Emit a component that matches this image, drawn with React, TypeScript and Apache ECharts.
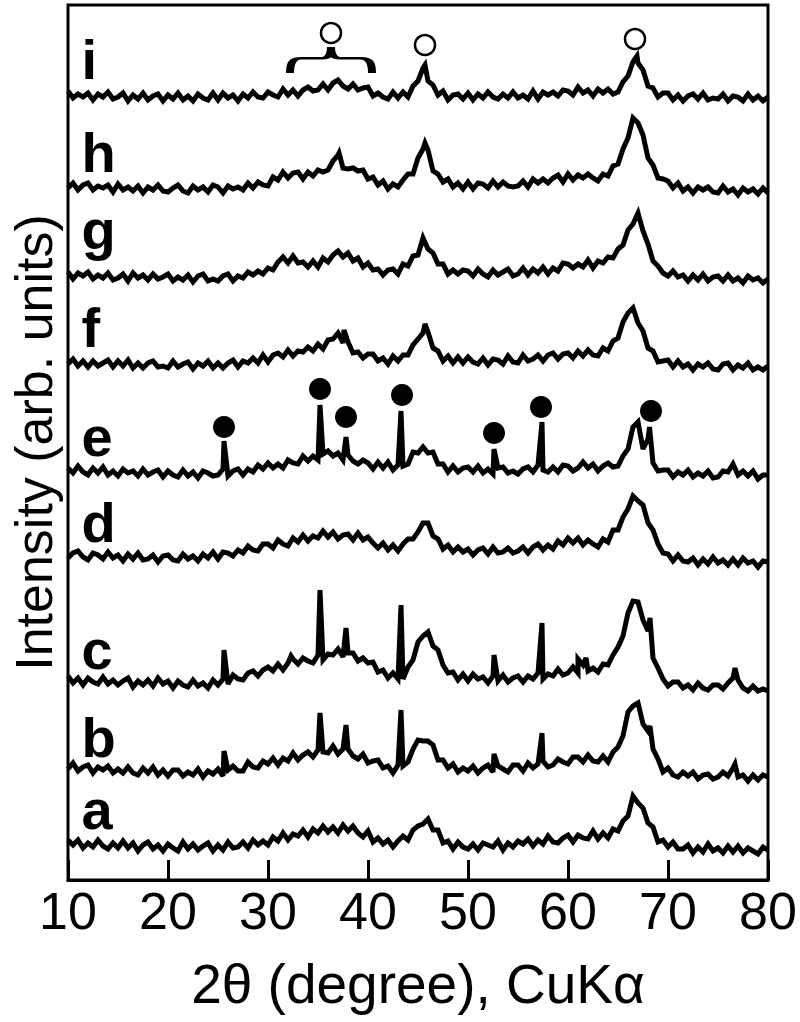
import React, { useEffect, useRef } from 'react'
import * as echarts from 'echarts'

const FONT = '"Liberation Sans", Arial, Helvetica, sans-serif'

// 2θ grid of the scans: 10°–80°, one reading every 0.5°
const twoTheta = Array.from({ length: 141 }, (_, i) => 10 + i * 0.5)

// intensity above each trace's own baseline
const scanA = [
  10, 5, 10, 2, 7, 3, 10, 4, 1, 7,
  2, 9, 2, 7, -1, 5, 8, 1, 5, -1,
  6, 2, -1, 8, 1, 6, 0, 4, 7, -1,
  5, 0, 8, 2, 3, 8, 2, 10, 5, 9,
  5, 13, 9, 17, 10, 16, 14, 20, 13, 21,
  17, 24, 18, 23, 17, 25, 19, 24, 17, 13,
  19, 8, 12, 6, 10, 3, 9, 14, 10, 20,
  24, 26, 31, 20, 20, 7, 9, 1, 8, 3,
  1, 6, 0, 7, 5, 3, 9, 0, 7, 3,
  9, 6, 11, 4, 10, 6, 14, 8, 7, 12,
  15, 8, 15, 12, 11, 19, 11, 17, 12, 21,
  19, 29, 34, 54, 47, 42, 27, 23, 8, 10,
  3, 8, 1, 1, 5, -3, 3, -2, 6, -1,
  2, -3, 4, -2, 4, -3, 2, -1, -4, 3,
  0,
]
const scanB = [
  9, 15, 7, 11, 13, 5, 11, 8, 12, 5,
  9, 5, 11, 5, 3, 10, 5, 11, 3, 8,
  2, 8, 8, 2, 6, 3, 9, 1, 7, 4,
  9, 2, 8, 12, 7, 7, 16, 11, 10, 17,
  14, 20, 13, 20, 17, 25, 18, 23, 26, 21,
  28, 26, 25, 32, 24, 29, 29, 22, 19, 24,
  15, 17, 18, 10, 12, 5, 13, 12, 16, 29,
  38, 37, 37, 33, 18, 18, 10, 14, 6, 10,
  7, 12, 5, 10, 13, 6, 12, 9, 6, 13,
  13, 7, 15, 10, 14, 17, 11, 13, 19, 16,
  14, 21, 21, 16, 23, 17, 16, 22, 16, 26,
  31, 42, 66, 72, 75, 54, 47, 29, 19, 6,
  10, 3, 1, 6, 2, 6, -1, 3, 4, -1,
  1, 6, 2, 10, 1, 3, -3, 3, -2, 3,
  1,
]
const scanC = [
  14, 7, 12, 5, 12, 8, 6, 13, 6, 10,
  5, 9, 12, 3, 9, 5, 10, 4, 12, 6,
  9, 2, 9, 5, 3, 10, 4, 7, 2, 10,
  5, 11, 6, 15, 11, 10, 17, 19, 14, 20,
  23, 19, 26, 20, 27, 31, 26, 32, 29, 27,
  35, 30, 36, 35, 41, 33, 37, 37, 29, 32,
  27, 28, 18, 20, 12, 17, 11, 11, 23, 30,
  48, 54, 58, 44, 40, 25, 17, 18, 10, 16,
  9, 16, 11, 13, 7, 14, 9, 15, 8, 12,
  14, 8, 14, 11, 17, 11, 16, 14, 21, 15,
  17, 23, 17, 25, 19, 22, 18, 26, 25, 35,
  43, 54, 77, 89, 88, 70, 59, 32, 22, 11,
  4, 8, 8, 2, 5, 0, 7, 2, 0, 5,
  5, 1, 7, 12, 10, 2, -1, 4, -1, 1,
  -1,
]
const scanD = [
  5, 10, 12, 6, 3, 10, 8, 4, 11, 5,
  8, 2, 9, 4, 10, 3, 4, 8, 1, 7,
  8, 3, 2, 9, 4, 7, 2, 9, 5, 11,
  4, 11, 10, 7, 13, 10, 17, 13, 12, 19,
  19, 15, 23, 19, 17, 25, 21, 28, 22, 27,
  25, 32, 26, 31, 24, 28, 29, 23, 30, 23,
  26, 20, 15, 20, 13, 18, 12, 19, 24, 24,
  31, 40, 40, 27, 24, 14, 18, 11, 16, 11,
  14, 8, 13, 15, 9, 16, 10, 11, 15, 10,
  12, 16, 10, 16, 19, 13, 18, 14, 22, 18,
  25, 20, 25, 18, 23, 19, 16, 24, 21, 33,
  33, 46, 54, 67, 62, 58, 40, 33, 19, 10,
  9, 2, 8, 2, 1, 5, -2, 4, -1, 6,
  0, 3, -2, 4, -2, 5, 0, 2, -4, 2,
  1,
]
const scanE = [
  9, 4, 11, 5, 2, 9, 4, 10, 2, 6,
  1, 8, 4, 6, 1, 8, 2, 5, 7, 0,
  6, 2, 0, 7, 1, 5, -1, 6, 4, 1,
  2, 8, 1, 6, 8, 2, 8, 5, 12, 8,
  14, 9, 13, 9, 17, 14, 13, 21, 16, 21,
  17, 23, 26, 21, 24, 17, 22, 16, 13, 17,
  14, 8, 15, 9, 15, 7, 12, 11, 13, 25,
  24, 30, 24, 25, 13, 13, 5, 11, 5, 9,
  10, 5, 11, 4, 8, 3, 9, 10, 4, 6,
  3, 8, 10, 5, 12, 7, 5, 10, 5, 12,
  11, 6, 9, 15, 9, 13, 6, 11, 14, 10,
  11, 21, 28, 50, 55, 28, 38, 14, 6, 7,
  7, 0, 5, 2, 7, 0, 4, 1, 6, -1,
  0, 6, 5, 13, 2, 6, 1, 6, -2, 2,
  2,
]
const scanF = [
  4, 9, 2, 7, 1, 7, 2, 5, 8, 1,
  7, 2, 8, 0, 5, 0, 5, 7, 1, 2,
  0, 7, 1, 4, 6, -1, 5, 2, 7, 0,
  5, 0, 5, 8, 1, 7, 5, 10, 5, 13,
  6, 13, 15, 11, 18, 12, 17, 16, 21, 17,
  24, 19, 28, 29, 35, 25, 26, 15, 16, 10,
  14, 14, 7, 10, 4, 12, 7, 13, 13, 23,
  29, 35, 36, 20, 17, 7, 12, 5, 11, 5,
  11, 6, 4, 10, 3, 9, 8, 4, 12, 6,
  5, 13, 7, 9, 13, 7, 13, 15, 9, 14,
  15, 10, 17, 12, 18, 13, 12, 20, 17, 27,
  30, 46, 55, 60, 45, 37, 20, 17, 6, 7,
  8, 1, 7, 1, 4, -2, 4, 1, 5, -1,
  -2, 4, 5, -2, 3, 0, 5, -2, 1, -2,
  2,
]
const scanG = [
  9, 2, 8, 5, 9, 2, 6, 3, 8, 1,
  3, 7, 0, 8, 3, 6, 1, 7, 2, 4,
  7, 0, 4, 1, 6, -1, 5, 7, 0, 2,
  0, 5, 7, 0, 5, 3, 9, 6, 10, 7,
  13, 11, 19, 24, 18, 25, 18, 19, 14, 20,
  14, 23, 19, 26, 30, 24, 28, 20, 23, 14,
  18, 11, 12, 6, 11, 12, 7, 17, 15, 25,
  26, 43, 32, 28, 17, 17, 7, 11, 7, 11,
  10, 5, 12, 7, 4, 11, 6, 9, 12, 5,
  7, 13, 6, 12, 8, 14, 7, 13, 10, 18,
  17, 13, 17, 14, 21, 13, 20, 18, 24, 23,
  32, 36, 51, 57, 68, 50, 37, 20, 15, 8,
  5, 10, 4, 6, 0, 6, 1, 7, 0, 4,
  5, 0, 6, 0, 3, -2, 5, 1, 3, -2,
  2,
]
const scanH = [
  5, 10, 3, 8, 10, 3, 7, 5, 8, 1,
  9, 3, 6, 2, 7, 0, 6, 3, 8, 2,
  1, 5, 8, 2, 0, 7, 3, 6, 1, 8,
  6, 0, 7, 4, 6, 3, 10, 5, 11, 8,
  7, 16, 13, 21, 15, 20, 21, 14, 21, 17,
  23, 21, 23, 32, 38, 25, 24, 25, 22, 23,
  14, 16, 8, 12, 4, 9, 6, 13, 19, 19,
  35, 44, 43, 22, 19, 11, 14, 6, 10, 4,
  11, 4, 10, 9, 5, 12, 6, 11, 7, 6,
  7, 12, 6, 14, 10, 14, 10, 15, 18, 11,
  19, 13, 18, 15, 19, 15, 12, 19, 17, 27,
  29, 44, 55, 75, 70, 58, 35, 28, 15, 14,
  12, 5, 10, 2, 6, 0, 6, 3, 6, 1,
  0, 7, 1, 4, -2, 5, 1, 4, -1, 5,
  0,
]
const scanI = [
  9, 2, 6, 3, 7, 0, 6, 3, 8, 1,
  3, 7, -1, 5, 1, 7, 0, 4, 6, -1,
  5, 1, 7, 0, 4, -1, 6, 2, 0, 7,
  0, 7, 2, 5, -1, 6, 2, 8, 3, 2,
  8, 5, 3, 11, 5, 10, 4, 10, 13, 9,
  10, 16, 10, 17, 20, 14, 11, 16, 10, 12,
  13, 4, 7, 3, 1, 8, 2, 8, 3, 14,
  19, 32, 19, 15, 5, 9, 0, 5, 6, 1,
  7, 0, 6, 2, 8, 3, 1, 6, 2, 8,
  2, 5, 1, 9, 1, 8, 5, 8, 4, 10,
  9, 5, 13, 7, 10, 4, 11, 7, 11, 6,
  8, 18, 24, 38, 37, 30, 14, 12, 3, 7,
  7, 0, 5, -1, 4, 6, 1, 7, 0, 2,
  1, 6, -1, 4, 3, -1, 6, 0, 4, -1,
  3,
]

// narrow reflections that fall between the 0.5° readings: [2θ, height]
const sharpB = [[25.6, 27], [35.2, 65], [37.8, 53], [43.3, 68], [52.6, 24], [57.4, 45], [68.2, 52], [76.7, 14]]
const sharpC = [[25.6, 40], [32.3, 34], [35.2, 100], [37.8, 62], [43.3, 85], [52.6, 35], [57.4, 67], [61.0, 31], [61.8, 32], [68.2, 72], [76.7, 22]]
const sharpE = [[25.6, 36], [35.2, 72], [37.8, 40], [43.3, 66], [52.6, 28], [57.4, 55], [68.15, 50]]
const sharpF = [[37.6, 38], [45.7, 44]]
const sharpH = [[37.1, 40], [45.7, 50]]
const sharpI = [[45.7, 35], [66.9, 44]]

// vertical offset of each trace in the stack
const traces = [
  { name: 'a', offset: 30, scan: scanA, sharp: [] as number[][] },
  { name: 'b', offset: 102, scan: scanB, sharp: sharpB },
  { name: 'c', offset: 190, scan: scanC, sharp: sharpC },
  { name: 'd', offset: 317, scan: scanD, sharp: [] as number[][] },
  { name: 'e', offset: 403, scan: scanE, sharp: sharpE },
  { name: 'f', offset: 512, scan: scanF, sharp: sharpF },
  { name: 'g', offset: 599, scan: scanG, sharp: [] as number[][] },
  { name: 'h', offset: 687, scan: scanH, sharp: sharpH },
  { name: 'i', offset: 780, scan: scanI, sharp: sharpI },
]

// ● crystalline reflections marked on trace e, ○ marked on trace i
const filledMarks = [[25.6, 453], [35.2, 491], [37.8, 463], [43.4, 485], [52.6, 447], [57.3, 473], [68.3, 469]]
const openMarks = [[36.3, 847], [45.7, 835], [66.7, 841]]
const braceMark = [[36.3, 820]]

const BRACE =
  'path://M0,30 C0,17 4,13 14,13 L40,13 C46,13 50,9 50,0 C50,9 54,13 60,13 L86,13 C96,13 100,17 100,30'

const buildLine = (scan: number[], sharp: number[][], offset: number) => {
  const pts = scan.map((v, i) => [twoTheta[i], v + offset])
  sharp.forEach(([x, h]) => pts.push([x, h + offset]))
  return pts.sort((p, q) => p[0] - q[0])
}

const XrdStack: React.FC = () => {
  const chartRef = useRef<HTMLDivElement>(null)

  useEffect(() => {
    if (!chartRef.current) return
    document.body.style.margin = '0'
    const chart = echarts.init(chartRef.current, null, { renderer: 'svg' })

    const lineSeries = traces.map(t => ({
      name: t.name,
      type: 'line',
      showSymbol: false,
      symbol: 'none',
      z: 2,
      lineStyle: { color: '#000', width: 5, join: 'miter', miterLimit: 3 },
      data: buildLine(t.scan, t.sharp, t.offset),
    }))

    const option = {
      animation: false,
      grid: {
        left: 62,
        right: 32,
        top: 5,
        bottom: 142,
        show: true,
        borderColor: '#000',
        borderWidth: 3,
        backgroundColor: '#fff',
      },
      xAxis: {
        type: 'value',
        min: 10,
        max: 80,
        interval: 10,
        name: '2θ (degree), CuKα',
        nameLocation: 'middle',
        nameGap: 76,
        nameTextStyle: { color: '#000', fontSize: 55, fontFamily: FONT },
        axisLine: { show: true, lineStyle: { color: '#000', width: 3 } },
        axisTick: { show: true, inside: true, length: 20, lineStyle: { color: '#000', width: 3 } },
        axisLabel: { color: '#000', fontSize: 52, fontFamily: FONT, margin: 5 },
        splitLine: { show: false },
      },
      yAxis: {
        type: 'value',
        min: 0,
        max: 875,
        name: 'Intensity (arb. units)',
        nameLocation: 'middle',
        nameGap: 8,
        nameTextStyle: { color: '#000', fontSize: 52, fontFamily: FONT },
        axisLine: { show: false },
        axisTick: { show: false },
        axisLabel: { show: false },
        splitLine: { show: false },
      },
      series: [
        ...lineSeries,
        {
          name: 'labels',
          type: 'scatter',
          symbolSize: 1,
          itemStyle: { color: 'rgba(0,0,0,0)', opacity: 1 },
          z: 4,
          label: {
            show: true,
            formatter: '{b}',
            position: 'right',
            distance: 0,
            color: '#000',
            opacity: 1,
            fontSize: 56,
            fontWeight: 'bold',
            fontFamily: FONT,
          },
          data: traces.map(t => ({
            name: t.name,
            value: [11.3, t.offset + (t.name === 'g' ? 52 : 41)],
          })),
        },
        {
          name: 'crystalline',
          type: 'scatter',
          symbol: 'circle',
          symbolSize: 22,
          z: 3,
          itemStyle: { color: '#000', opacity: 1 },
          data: filledMarks,
        },
        {
          name: 'amorphous',
          type: 'scatter',
          symbol: 'circle',
          symbolSize: 20,
          z: 3,
          itemStyle: { color: '#fff', borderColor: '#000', borderWidth: 2.5, opacity: 1 },
          data: openMarks,
        },
        {
          name: 'brace',
          type: 'scatter',
          symbol: BRACE,
          symbolSize: [82, 26],
          symbolKeepAspect: false,
          z: 3,
          itemStyle: { color: 'rgba(0,0,0,0)', borderColor: '#000', borderWidth: 4.5, opacity: 1 },
          data: braceMark,
        },
      ],
    }

    chart.setOption(option)

    return () => {
      chart.dispose()
    }
  }, [])

  return <div ref={chartRef} style={{ width: 800, height: 1022, background: '#fff' }} />
}

export default function App() {
  return <XrdStack />
}
